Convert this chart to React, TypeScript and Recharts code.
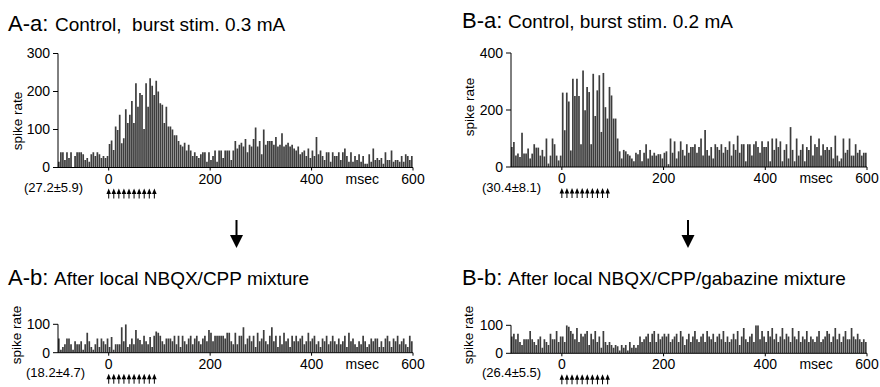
import { Bar, BarChart, XAxis, YAxis } from "recharts";

// 4 ms bins from -100 to 600 msec
const BIN_START = -100;
const BIN_WIDTH = 4;
const X_TICKS = [0, 200, 400, 500, 600]; // 500 only carries the "msec" label
const STIM_TIMES = [0, 10, 20, 30, 40, 50, 60, 70, 80, 90];

// A-a: Control, burst stim. 0.3 mA
const AA_RATE = [
  15, 40, 40, 20, 40, 25, 40, 0, 30, 40, 40, 40, 35, 20, 25, 15, 35, 40, 30, 40, 35, 25, 30, 25, 30,
  62, 71, 46, 108, 99, 139, 64, 77, 153, 117, 139, 175, 117, 222, 160, 196, 191, 101, 222, 160, 235, 215, 191, 228, 200,
  169, 165, 117, 160, 108, 108, 100, 85, 85, 70, 60, 55, 65, 45, 60, 45, 30, 40, 30, 25, 35, 40, 40, 15, 40,
  20, 30, 45, 15, 45, 45, 25, 45, 45, 45, 20, 45, 70, 50, 60, 65, 55, 75, 40, 60, 55, 75, 105, 55, 70,
  35, 100, 60, 70, 70, 70, 60, 80, 55, 60, 90, 55, 60, 65, 55, 60, 50, 45, 55, 35, 40, 45, 30, 50, 25,
  45, 30, 80, 35, 45, 30, 20, 40, 40, 15, 40, 30, 30, 40, 20, 40, 50, 30, 15, 40, 15, 30, 20, 35, 15,
  30, 10, 10, 35, 15, 50, 20, 25, 20, 25, 10, 40, 20, 20, 45, 15, 20, 20, 15, 30, 15, 35, 30, 20, 30,
];

// B-a: Control, burst stim. 0.2 mA
const BA_RATE = [
  70, 88, 40, 47, 35, 120, 47, 47, 65, 30, 47, 80, 68, 68, 40, 60, 37, 100, 12, 40, 100, 80, 40, 23, 40,
  261, 129, 261, 230, 58, 310, 249, 310, 249, 80, 339, 199, 281, 263, 80, 327, 179, 269, 322, 123, 330, 210, 170, 281, 251,
  170, 170, 100, 55, 30, 60, 55, 45, 40, 30, 20, 50, 45, 60, 20, 50, 80, 30, 60, 40, 50, 40, 45, 45, 30,
  50, 55, 10, 100, 50, 90, 30, 55, 90, 60, 40, 80, 50, 70, 70, 80, 50, 70, 100, 40, 130, 60, 40, 70, 30,
  80, 70, 60, 80, 50, 70, 60, 90, 40, 80, 60, 110, 50, 80, 80, 20, 80, 80, 40, 80, 90, 70, 50, 90, 70,
  70, 90, 20, 100, 60, 100, 70, 90, 20, 60, 80, 30, 140, 60, 20, 100, 40, 60, 80, 20, 70, 60, 110, 40, 80,
  70, 100, 40, 80, 60, 70, 60, 70, 30, 110, 40, 20, 30, 100, 50, 60, 100, 40, 40, 80, 50, 60, 40, 50, 50,
];

// A-b: After local NBQX/CPP mixture
const AB_RATE = [
  50, 10, 20, 30, 50, 50, 30, 10, 40, 30, 30, 40, 10, 30, 70, 40, 20, 10, 30, 50, 20, 50, 40, 30, 50,
  20, 55, 10, 30, 30, 30, 90, 40, 100, 20, 30, 50, 30, 80, 50, 45, 30, 60, 40, 30, 55, 20, 60, 75, 70,
  60, 40, 30, 50, 50, 50, 40, 60, 30, 60, 20, 60, 40, 30, 50, 60, 30, 50, 60, 40, 30, 50, 60, 40, 80,
  70, 40, 60, 60, 60, 60, 60, 50, 70, 70, 40, 30, 70, 30, 60, 60, 90, 30, 50, 60, 40, 60, 20, 70, 40,
  50, 80, 40, 30, 60, 90, 40, 60, 20, 60, 30, 70, 40, 50, 20, 60, 40, 60, 40, 50, 60, 30, 40, 70, 40,
  50, 60, 30, 40, 20, 50, 40, 60, 30, 40, 60, 40, 30, 50, 30, 40, 60, 20, 70, 40, 50, 30, 20, 40, 30,
  60, 40, 20, 30, 50, 40, 50, 50, 20, 40, 20, 50, 60, 40, 20, 50, 40, 60, 30, 40, 50, 30, 20, 60, 40,
];

// B-b: After local NBQX/CPP/gabazine mixture
const BB_RATE = [
  60, 70, 50, 70, 40, 30, 50, 50, 50, 80, 50, 40, 30, 50, 60, 20, 50, 40, 30, 70, 50, 50, 80, 40, 60,
  60, 40, 100, 95, 80, 70, 50, 90, 40, 70, 60, 70, 80, 30, 70, 50, 80, 40, 60, 20, 80, 40, 30, 40, 30,
  20, 30, 25, 10, 30, 20, 30, 10, 40, 20, 30, 20, 30, 60, 40, 50, 60, 70, 40, 70, 80, 40, 70, 50, 60,
  70, 60, 70, 40, 50, 60, 70, 40, 80, 60, 30, 50, 70, 40, 60, 80, 50, 40, 60, 70, 40, 80, 60, 50, 70,
  40, 60, 70, 50, 80, 40, 60, 40, 50, 70, 50, 80, 30, 60, 90, 50, 40, 60, 70, 40, 100, 100, 50, 80, 60,
  40, 80, 60, 90, 50, 70, 40, 60, 90, 50, 70, 60, 40, 90, 60, 50, 80, 40, 60, 50, 80, 40, 60, 50, 40,
  60, 80, 40, 50, 60, 80, 70, 40, 60, 90, 50, 70, 40, 60, 80, 50, 50, 90, 60, 50, 70, 50, 40, 50, 40,
];

const FONT = '"Liberation Sans", Arial, Helvetica, sans-serif';
const Y_W = 50;
const XH = 20;
const SH = 16;

function toBins(values: number[]) {
  return values.map((rate, i) => ({ t: BIN_START + BIN_WIDTH * (i + 0.5), rate }));
}

function TimeTick(props: any) {
  const { x, y, payload } = props;
  const v = payload.value;
  return (
    <g>
      {v !== 500 && <line x1={x} x2={x} y1={y - 6} y2={y - 3} stroke="#000" />}
      <text x={x} y={y} dy="0.72em" textAnchor="middle" fontSize={14} fill="#000" fontFamily={FONT}>
        {v === 500 ? "msec" : v}
      </text>
    </g>
  );
}

function StimTick(props: any) {
  const { x, y } = props;
  return (
    <g>
      <path d={`M${x},${y + 1} L${x - 2.3},${y + 6.5} L${x + 2.3},${y + 6.5} Z`} fill="#000" />
      <line x1={x} x2={x} y1={y + 5} y2={y + 11} stroke="#000" strokeWidth={1} />
    </g>
  );
}

interface PanelProps {
  left: number;
  top: number;
  width: number;
  height: number;
  plotLeft: number;
  plotRight: number;
  plotTop: number;
  plotBottom: number;
  yMax: number;
  yTicks: number[];
  rates: number[];
}

function Panel(p: PanelProps) {
  const margin = {
    top: p.plotTop - p.top,
    left: p.plotLeft - p.left - Y_W,
    right: p.left + p.width - p.plotRight,
    bottom: p.top + p.height - p.plotBottom - XH - SH,
  };
  return (
    <div style={{ position: "absolute", left: p.left, top: p.top }}>
      <BarChart width={p.width} height={p.height} data={toBins(p.rates)} margin={margin}>
        <XAxis
          xAxisId="main"
          dataKey="t"
          type="number"
          domain={[-100, 600]}
          allowDataOverflow
          ticks={X_TICKS}
          interval={0}
          height={XH}
          tickSize={6}
          tickMargin={0}
          tickLine={false}
          axisLine={{ stroke: "#000" }}
          tick={(tp: any) => <TimeTick {...tp} />}
        />
        <XAxis
          xAxisId="stim"
          dataKey="t"
          type="number"
          domain={[-100, 600]}
          allowDataOverflow
          ticks={STIM_TIMES}
          interval={0}
          height={SH}
          tickSize={0}
          tickMargin={0}
          tickLine={false}
          axisLine={false}
          tick={(tp: any) => <StimTick {...tp} />}
        />
        <YAxis
          type="number"
          domain={[0, p.yMax]}
          ticks={p.yTicks}
          interval={0}
          allowDataOverflow
          width={Y_W}
          tickSize={5}
          tickMargin={3}
          axisLine={{ stroke: "#000" }}
          tickLine={{ stroke: "#000" }}
          tick={{ fill: "#000", fontSize: 14, fontFamily: FONT }}
        />
        <Bar xAxisId="main" dataKey="rate" fill="#3d3d3d" barSize={1.7} isAnimationActive={false} />
      </BarChart>
    </div>
  );
}

function Title({ x, restX, y, prefix, rest }: { x: number; restX: number; y: number; prefix: string; rest: string }) {
  return (
    <g fontFamily={FONT} fill="#000">
      <text x={x} y={y} fontSize={22}>{prefix}</text>
      <text x={restX} y={y} fontSize={19} style={{ whiteSpace: "pre" }}>{rest}</text>
    </g>
  );
}

function DownArrow({ x, y1, y2 }: { x: number; y1: number; y2: number }) {
  return (
    <g>
      <line x1={x} x2={x} y1={y1} y2={y2 - 10} stroke="#000" strokeWidth={2} />
      <path d={`M${x - 6.5},${y2 - 13} L${x + 6.5},${y2 - 13} L${x},${y2} Z`} fill="#000" />
    </g>
  );
}

function SpikeLabel({ x, y }: { x: number; y: number }) {
  return (
    <text x={x} y={y} transform={`rotate(-90 ${x} ${y})`} textAnchor="middle" dominantBaseline="central" fontSize={13.5} fontFamily={FONT} fill="#000">
      spike rate
    </text>
  );
}

export default function App() {
  return (
    <div style={{ position: "relative", width: 880, height: 387, background: "#fff", fontFamily: FONT }}>
      <style>{`body{margin:0}`}</style>
      <Panel left={0} top={0} width={440} height={215} plotLeft={58} plotRight={413} plotTop={53.5} plotBottom={167.5} yMax={300} yTicks={[0, 100, 200, 300]} rates={AA_RATE} />
      <Panel left={440} top={0} width={440} height={215} plotLeft={511} plotRight={867} plotTop={53} plotBottom={167} yMax={400} yTicks={[0, 200, 400]} rates={BA_RATE} />
      <Panel left={0} top={240} width={440} height={147} plotLeft={58} plotRight={413} plotTop={324.3} plotBottom={352.7} yMax={100} yTicks={[0, 100]} rates={AB_RATE} />
      <Panel left={440} top={240} width={440} height={147} plotLeft={511} plotRight={867} plotTop={325.3} plotBottom={353.3} yMax={100} yTicks={[0, 100]} rates={BB_RATE} />
      <svg width={880} height={387} style={{ position: "absolute", left: 0, top: 0, pointerEvents: "none" }}>
        <Title x={8} restX={55} y={31} prefix="A-a:" rest="Control,  burst stim. 0.3 mA" />
        <Title x={462} restX={508} y={28} prefix="B-a:" rest="Control, burst stim. 0.2 mA" />
        <Title x={8} restX={54} y={285} prefix="A-b:" rest="After local NBQX/CPP mixture" />
        <Title x={462} restX={508} y={285} prefix="B-b:" rest="After local NBQX/CPP/gabazine mixture" />
        <SpikeLabel x={17} y={121} />
        <SpikeLabel x={469} y={107} />
        <SpikeLabel x={16} y={335} />
        <SpikeLabel x={468} y={335} />
        <g fontFamily={FONT} fontSize={13} fill="#000">
          <text x={24} y={192}>(27.2±5.9)</text>
          <text x={482} y={192}>(30.4±8.1)</text>
          <text x={26} y={377}>(18.2±4.7)</text>
          <text x={482} y={377}>(26.4±5.5)</text>
        </g>
        <DownArrow x={236.5} y1={220} y2={248} />
        <DownArrow x={688} y1={220} y2={248} />
      </svg>
    </div>
  );
}
